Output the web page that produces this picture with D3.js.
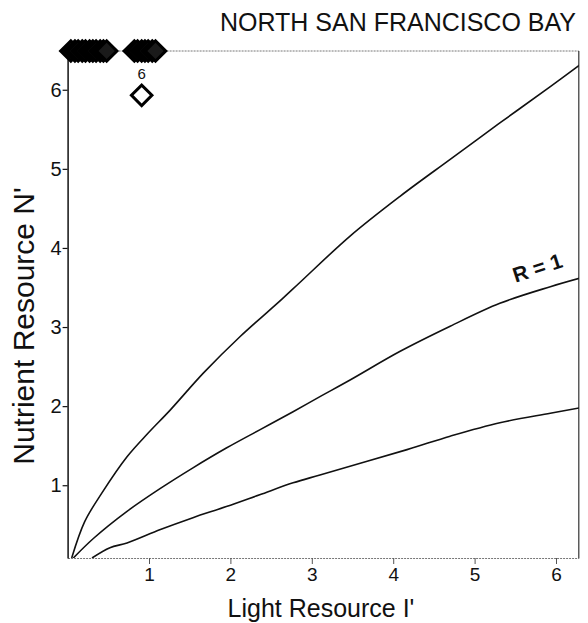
<!DOCTYPE html>
<html>
<head>
<meta charset="utf-8">
<script src="https://cdn.jsdelivr.net/npm/d3@7"></script>
<style>
  body { margin: 0; background: #fff; }
  svg { display: block; font-family: "Liberation Sans", Arial, sans-serif; }
</style>
</head>
<body>
<svg id="chart" width="588" height="623"></svg>
<script>
// ---- data ----
const title = "NORTH SAN FRANCISCO BAY";
const xLabel = "Light Resource I'";
const yLabel = "Nutrient Resource N'";
const xTicks = [1, 2, 3, 4, 5, 6];
const yTicks = [1, 2, 3, 4, 5, 6];

// upper curve
const curveUpperI = [0.05, 0.21, 0.42, 0.73, 0.99, 1.26, 1.67, 2.12, 2.63, 2.85, 3.47, 4.08, 4.70, 5.31, 5.93, 6.30];
const curveUpperN = [0.08, 0.54, 0.90, 1.36, 1.66, 1.95, 2.42, 2.88, 3.35, 3.56, 4.15, 4.65, 5.12, 5.58, 6.04, 6.32];
// R = 1 curve
const curveMidI = [0.07, 0.32, 0.73, 1.14, 1.54, 1.95, 2.36, 2.77, 3.10, 3.47, 4.08, 4.70, 5.31, 5.93, 6.30];
const curveMidN = [0.08, 0.33, 0.67, 0.96, 1.22, 1.47, 1.70, 1.93, 2.12, 2.33, 2.69, 3.01, 3.30, 3.51, 3.62];
// lower curve
const curveLowI = [0.30, 0.52, 0.73, 1.14, 1.54, 1.95, 2.36, 2.77, 3.10, 4.17, 4.70, 5.31, 5.93, 6.30];
const curveLowN = [0.08, 0.21, 0.27, 0.44, 0.59, 0.73, 0.88, 1.03, 1.13, 1.45, 1.62, 1.79, 1.91, 1.98];

// observations (off-scale ones drawn at the top edge)
const obsI = [0.04, 0.09, 0.13, 0.18, 0.22, 0.27, 0.31, 0.35, 0.40, 0.44, 0.48,
              0.82, 0.86, 0.91, 0.95, 0.99, 1.04, 1.08, 0.91];
const obsN = [6.6, 6.6, 6.6, 6.6, 6.6, 6.6, 6.6, 6.6, 6.6, 6.6, 6.6,
              6.6, 6.6, 6.6, 6.6, 6.6, 6.6, 6.6, 5.93];
const obsLabel = ["", "", "", "", "", "", "", "", "", "", "",
                  "", "", "", "", "", "", "", "6"];
const curveLabel = "R = 1";

// ---- layout ----
const svg = d3.select("#chart");
const pL = 67.6, pR = 578.8, pT = 51, pB = 558;
const x = d3.scaleLinear().domain([0, 6.28]).range([pL, pR]);
const y = d3.scaleLinear().domain([0.08, 6.49]).range([pB, pT]);
const yMax = y.domain()[1];

// clip
svg.append("clipPath").attr("id", "clip")
  .append("rect").attr("x", pL).attr("y", pT).attr("width", pR - pL).attr("height", pB - pT);

// frame: top and right border
svg.append("line").attr("x1", pL).attr("x2", pR).attr("y1", pT).attr("y2", pT)
  .attr("stroke", "#777").attr("stroke-width", 1).attr("stroke-dasharray", "2,1");
svg.append("line").attr("x1", pR).attr("x2", pR).attr("y1", pT).attr("y2", pB)
  .attr("stroke", "#333").attr("stroke-width", 1.2);

// x axis
const xAxis = svg.append("g").attr("transform", `translate(0,${pB})`)
  .call(d3.axisBottom(x).tickValues(xTicks).tickFormat(d3.format("d")).tickSize(6).tickPadding(4).tickSizeOuter(0));
xAxis.select(".domain").attr("stroke", "#777").attr("stroke-dasharray", "2,1");
xAxis.selectAll(".tick line").attr("stroke", "#555");
xAxis.selectAll("text").attr("font-size", 19).attr("fill", "#111");

// y axis
const yAxis = svg.append("g").attr("transform", `translate(${pL},0)`)
  .call(d3.axisLeft(y).tickValues(yTicks).tickFormat(d3.format("d")).tickSize(5).tickPadding(1).tickSizeOuter(0));
yAxis.select(".domain").attr("stroke", "#111").attr("stroke-width", 1.5);
yAxis.selectAll(".tick line").attr("stroke", "#111").attr("stroke-width", 1.2);
yAxis.selectAll("text").attr("font-size", 20).attr("fill", "#111");

// curves
const line = d3.line().x(d => x(d[0])).y(d => y(d[1])).curve(d3.curveCatmullRom.alpha(0.5));
const curves = [
  d3.zip(curveUpperI, curveUpperN),
  d3.zip(curveMidI, curveMidN),
  d3.zip(curveLowI, curveLowN)
];
svg.append("g").attr("clip-path", "url(#clip)")
  .selectAll("path").data(curves).join("path")
  .attr("d", line).attr("fill", "none").attr("stroke", "#111").attr("stroke-width", 1.6);

// R = 1 label
const lx = x(5.80), ly = y(3.66);
svg.append("text").attr("transform", `translate(${lx},${ly}) rotate(-18)`)
  .attr("text-anchor", "middle").attr("font-size", 21).attr("font-weight", "bold")
  .attr("fill", "#111").text(curveLabel);

// observations
const obs = d3.zip(obsI, obsN, obsLabel);
const sym = d3.symbol().type(d3.symbolSquare).size(210);
svg.append("g").selectAll("path").data(obs).join("path")
  .attr("d", sym)
  .attr("transform", d => `translate(${x(d[0])},${y(Math.min(d[1], yMax))}) rotate(45)`)
  .attr("fill", d => d[1] > yMax ? "#1a1a1a" : "#fff")
  .attr("stroke", "#000").attr("stroke-width", 3);
svg.append("g").selectAll("text").data(obs.filter(d => d[2])).join("text")
  .attr("x", d => x(d[0])).attr("y", d => y(d[1]) - 16)
  .attr("text-anchor", "middle").attr("font-size", 15).attr("fill", "#111").text(d => d[2]);

// titles
svg.append("text").attr("x", 576).attr("y", 31).attr("text-anchor", "end")
  .attr("font-size", 25).attr("fill", "#111").text(title);
svg.append("text").attr("x", 321).attr("y", 617).attr("text-anchor", "middle")
  .attr("font-size", 25).attr("fill", "#111").text(xLabel);
svg.append("text").attr("transform", `translate(34,326) rotate(-90)`).attr("text-anchor", "middle")
  .attr("font-size", 30).attr("fill", "#111").text(yLabel);
</script>
</body>
</html>
